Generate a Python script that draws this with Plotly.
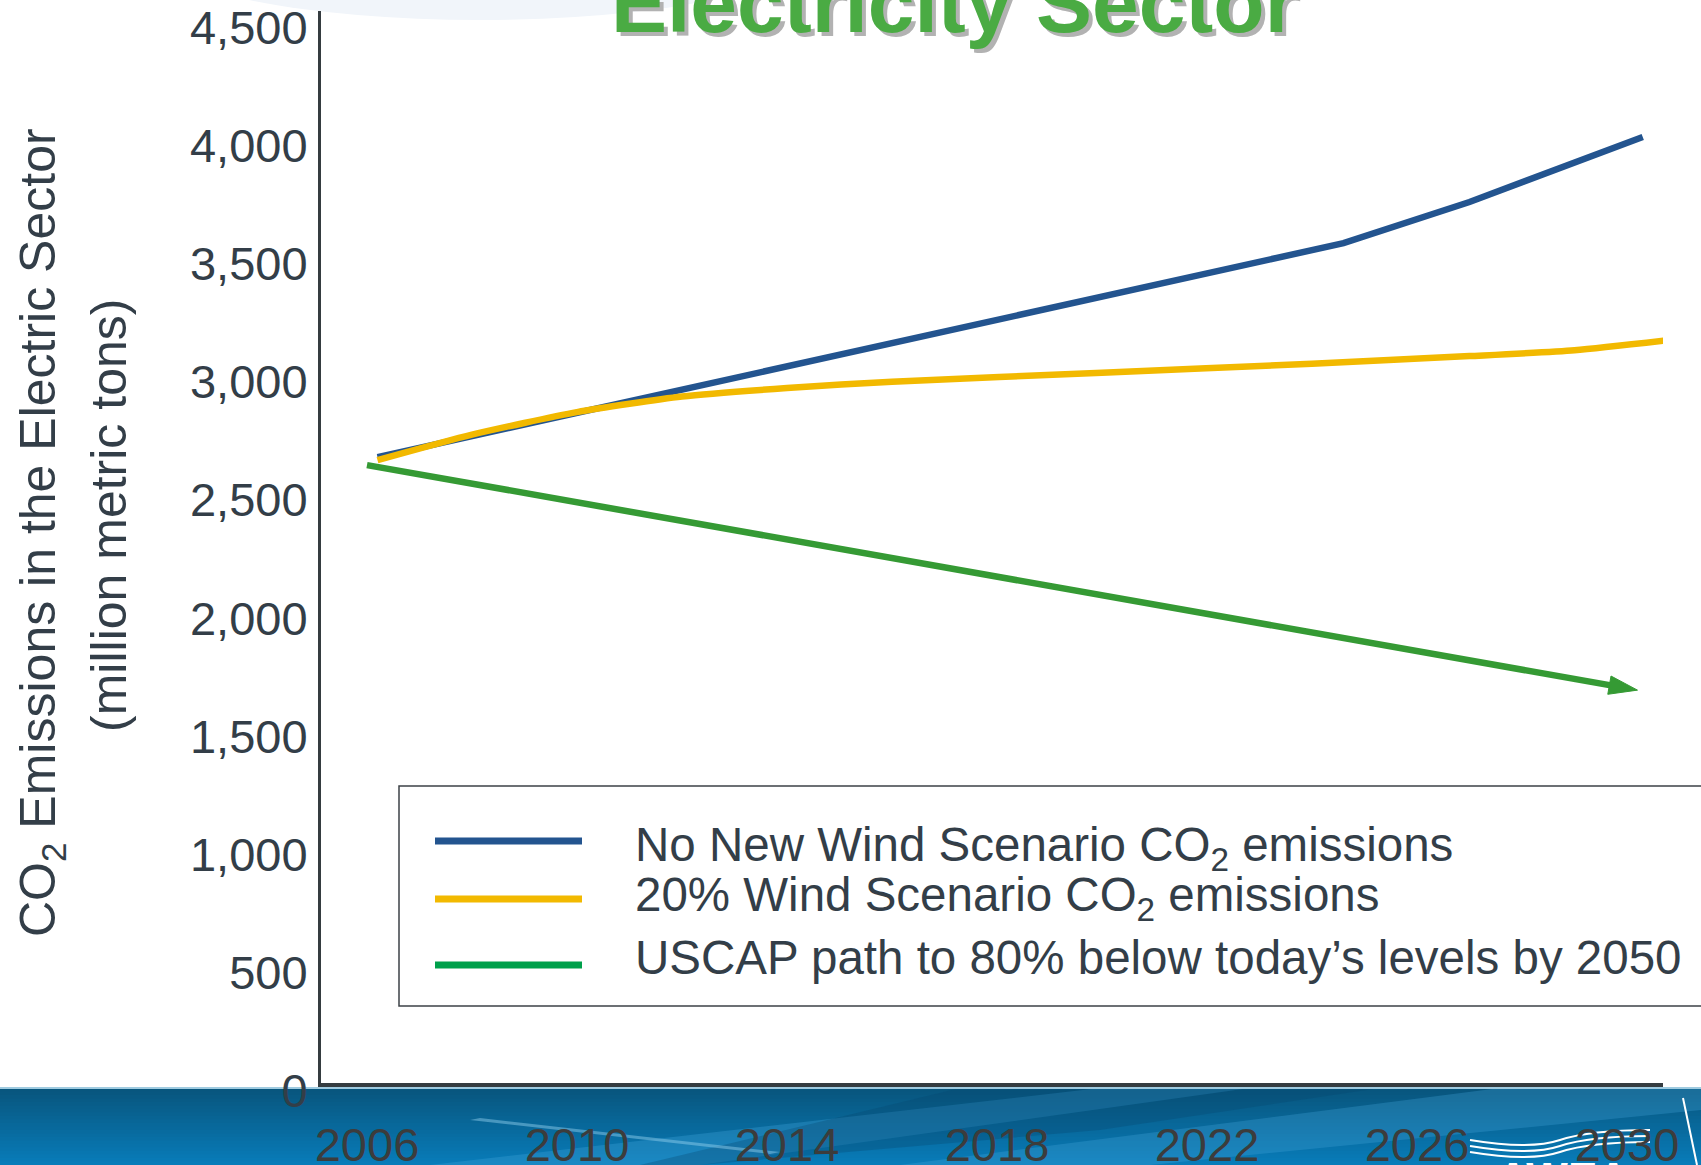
import plotly.graph_objects as go

W, H = 1701, 1165
FONT = "Liberation Sans, Arial, sans-serif"

# --- data ---
x_ticks = [2006, 2010, 2014, 2018, 2022, 2026, 2030]
y_ticks = [0, 500, 1000, 1500, 2000, 2500, 3000, 3500, 4000, 4500]

years_no_wind = [2006.2, 2010, 2014, 2018, 2022, 2024.6, 2027, 2030.3]
co2_no_wind = [2648, 2835, 3030, 3225, 3425, 3553, 3727, 4002]

years_wind20 = [2006.2, 2008, 2010, 2012, 2014, 2016, 2020, 2024, 2027, 2029, 2030.8]
co2_wind20 = [2635, 2743, 2838, 2904, 2940, 2967, 3005, 3043, 3075, 3100, 3143]

years_uscap = [2006, 2030.2]
co2_uscap = [2614, 1662]

series_names = [
    "No New Wind Scenario CO<sub>2</sub> emissions",
    "20% Wind Scenario CO<sub>2</sub> emissions",
    "USCAP path to 80% below today\u2019s levels by 2050",
]

BLUE = "#23548f"
YELLOW = "#f2b900"
GREEN = "#359a34"
GREEN_LEGEND = "#00a04b"
TEXT = "#333e48"


def px(x):
    """pixel x -> paper x (margins are zero, paper = whole figure)"""
    return x / W


def py(y):
    """pixel y -> paper y"""
    return 1 - y / H


def rect(x0, y0, x1, y1, **kw):
    return dict(type="rect", xref="paper", yref="paper",
                x0=px(x0), y0=py(y0), x1=px(x1), y1=py(y1), **kw)


def path(points, **kw):
    d = "M" + " L".join(f"{px(a):.5f},{py(b):.5f}" for a, b in points) + " Z"
    return dict(type="path", xref="paper", yref="paper", path=d, **kw)


fig = go.Figure()

fig.add_trace(go.Scatter(
    x=years_no_wind, y=co2_no_wind, mode="lines",
    line=dict(color=BLUE, width=6.5), name="No New Wind",
))
fig.add_trace(go.Scatter(
    x=years_wind20, y=co2_wind20, mode="lines",
    line=dict(color=YELLOW, width=6.5, shape="spline", smoothing=0.6),
    name="20% Wind",
))
fig.add_trace(go.Scatter(
    x=years_uscap, y=co2_uscap, mode="lines+markers",
    line=dict(color=GREEN, width=6.5),
    marker=dict(symbol="arrow", size=[0, 30], angleref="previous", color=GREEN,
                opacity=1, line=dict(width=1, color=GREEN)),
    name="USCAP",
))

shapes = []

# faint ellipse top-left
shapes.append(dict(type="circle", xref="paper", yref="paper",
                   x0=px(160), x1=px(800), y0=py(20), y1=py(-110),
                   fillcolor="#f1f5fa", line=dict(width=0), layer="below"))

# bottom blue band (vertical gradient built from strips)
top, bot = 1088, 1165
c0, c1 = (8, 86, 126), (8, 124, 185)
n = 22
for i in range(n):
    t = i / (n - 1)
    c = tuple(int(c0[k] + (c1[k] - c0[k]) * t) for k in range(3))
    ya = top + (bot - top) * i / n
    yb = top + (bot - top) * (i + 1) / n + 0.6
    shapes.append(rect(0, ya, W, yb, fillcolor=f"rgb{c}",
                       line=dict(width=0), layer="below"))
# swooshes in the band
shapes.append(path([(430, 1165), (700, 1165), (1250, 1088), (1100, 1088)],
                   fillcolor="rgba(60,160,215,0.35)", line=dict(width=0), layer="below"))
shapes.append(path([(900, 1165), (1150, 1165), (1701, 1110), (1701, 1088), (1500, 1088)],
                   fillcolor="rgba(70,165,220,0.30)", line=dict(width=0), layer="below"))
shapes.append(path([(960, 1088), (1380, 1088), (1100, 1130), (700, 1165), (640, 1165)],
                   fillcolor="rgba(5,70,110,0.30)", line=dict(width=0), layer="below"))
shapes.append(path([(470, 1120), (480, 1118), (780, 1152), (770, 1154)],
                   fillcolor="rgba(150,210,240,0.45)", line=dict(width=0), layer="below"))
shapes.append(dict(type="line", xref="paper", yref="paper",
                   x0=0, x1=1, y0=py(1088), y1=py(1088),
                   line=dict(color="#9fcbe0", width=2), layer="below"))
# logo swoosh / turbine (white)
for dy in (0, 6, 12):
    shapes.append(dict(type="path", xref="paper", yref="paper",
                       path=(f"M{px(1470):.5f},{py(1140 + dy):.5f} "
                             f"Q{px(1530):.5f},{py(1150 + dy):.5f} {px(1560):.5f},{py(1140 + dy):.5f} "
                             f"T{px(1650):.5f},{py(1130 + dy):.5f}"),
                       line=dict(color="white", width=2), layer="below"))
shapes.append(dict(type="line", xref="paper", yref="paper",
                   x0=px(1683), x1=px(1697), y0=py(1098), y1=py(1165),
                   line=dict(color="white", width=2), layer="below"))

# legend box and samples
shapes.append(rect(399, 786, 1720, 1006, fillcolor="white",
                   line=dict(color="#3d4247", width=1.5), layer="below"))
legend_y = [841, 899, 965]
legend_colors = [BLUE, YELLOW, GREEN_LEGEND]
for yy, col in zip(legend_y, legend_colors):
    shapes.append(dict(type="line", xref="paper", yref="paper",
                       x0=px(435), x1=px(582), y0=py(yy), y1=py(yy),
                       line=dict(color=col, width=7)))

annotations = []
legend_text_y = [848, 898, 957]
for name, yy in zip(series_names, legend_text_y):
    annotations.append(dict(
        xref="paper", yref="paper", x=px(633), y=py(yy),
        xanchor="left", yanchor="middle", showarrow=False, text=name,
        font=dict(family=FONT, size=47.5, color=TEXT),
    ))

# y-axis title (two lines)
annotations.append(dict(
    xref="paper", yref="paper", x=px(41), y=py(533), textangle=-90,
    xanchor="center", yanchor="middle", showarrow=False,
    text="CO<sub>2</sub> Emissions in the Electric Sector",
    font=dict(family=FONT, size=50, color=TEXT),
))
annotations.append(dict(
    xref="paper", yref="paper", x=px(109), y=py(516), textangle=-90,
    xanchor="center", yanchor="middle", showarrow=False,
    text="(million metric tons)",
    font=dict(family=FONT, size=50, color=TEXT),
))

# cut-off slide title with shadow
for dx, dy, col in ((4, 4, "#b2b2b2"), (0, 0, "#4aab43")):
    annotations.append(dict(
        xref="paper", yref="paper", x=px(954 + dx), y=py(3 + dy),
        xanchor="center", yanchor="middle", showarrow=False,
        text="<b>Electricity Sector</b>",
        font=dict(family=FONT, size=84, color=col),
    ))

# AWEA logo letters (cut off at the bottom)
annotations.append(dict(
    xref="paper", yref="paper", x=px(1495), y=py(1152),
    xanchor="left", yanchor="top", showarrow=False,
    text="<b>AWEA</b>", font=dict(family=FONT, size=44, color="white"),
))

fig.update_layout(
    width=W, height=H,
    margin=dict(l=0, r=0, t=0, b=0),
    paper_bgcolor="white",
    plot_bgcolor="rgba(0,0,0,0)",
    showlegend=False,
    shapes=shapes,
    annotations=annotations,
    xaxis=dict(
        domain=[px(321), px(1663)], range=[2005.124, 2030.686],
        tickvals=x_ticks, ticktext=[str(v) for v in x_ticks],
        showgrid=False, zeroline=False, ticks="",
        showline=True, linecolor="#353c40", linewidth=4,
        tickfont=dict(family=FONT, size=47, color="#3c3c3c"),
        ticklabelstandoff=18, automargin=False,
    ),
    yaxis=dict(
        domain=[py(1083), py(11)], range=[0, 4535],
        tickvals=y_ticks, tickformat=",",
        showgrid=False, zeroline=False, ticks="",
        showline=True, linecolor="#353c40", linewidth=3,
        tickfont=dict(family=FONT, size=47, color=TEXT),
        ticklabelstandoff=1, ticklabelshift=8, automargin=False,
    ),
)

# page body margin would offset the whole figure by 8px
fig.write_html("out.html", config={"displayModeBar": False},
               post_script="document.body.style.margin='0';")
